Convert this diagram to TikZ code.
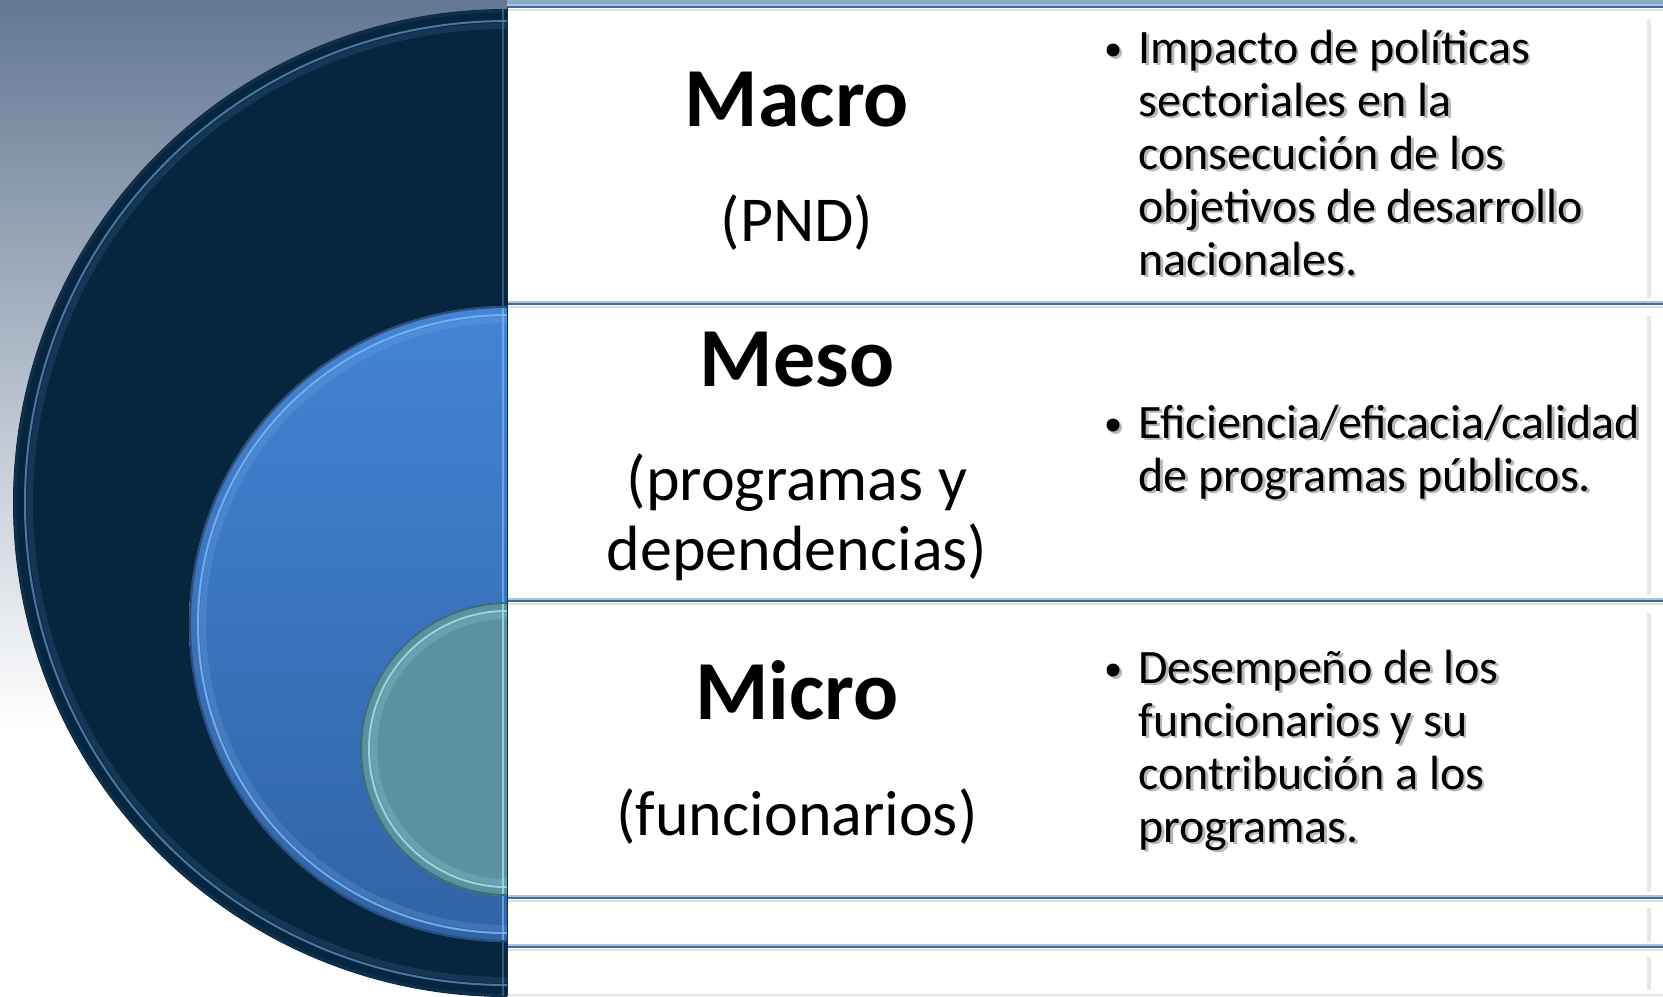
\documentclass[tikz,border=0pt]{standalone}
\usepackage{fontspec}
\setmainfont{Carlito}
\definecolor{bgtop}{HTML}{637893}
\definecolor{topstrip}{HTML}{8AA9C6}
\definecolor{navy}{HTML}{06253F}
\definecolor{navyrim}{HTML}{0F2F4A}
\definecolor{navyhl}{HTML}{5A8DBA}
\definecolor{blueT}{HTML}{4384D5}
\definecolor{blueB}{HTML}{3163A5}
\definecolor{bluerim}{HTML}{2A4E80}
\definecolor{bluehl}{HTML}{7DB8F2}
\definecolor{teal}{HTML}{5A939F}
\definecolor{tealrim}{HTML}{3E6B74}
\definecolor{tealhl}{HTML}{A8DEE6}
\definecolor{sepdark}{HTML}{41699C}
\definecolor{seplight}{HTML}{A9C3E0}
\newcommand\shd[1]{\makebox[0pt][l]{\kern1.3pt\raisebox{-1.3pt}{\textcolor{black!28}{#1}}}#1}
\tikzset{
  lbl/.style={anchor=base, inner sep=0pt, font=\fontsize{42}{48}\selectfont\bfseries},
  sublbl/.style={anchor=base, inner sep=0pt, font=\fontsize{32}{36}\selectfont},
  itm/.style={anchor=base west, inner sep=0pt, font=\fontsize{24}{26}\selectfont},
  bul/.style={circle, fill=black, inner sep=0pt, minimum size=6.5pt},
  bulshadow/.style={circle, fill=black!28, inner sep=0pt, minimum size=6.5pt},
  sepline/.style={line width=0.9pt, sepdark},
  sephl/.style={line width=1pt, seplight},
}
\begin{document}
\begin{tikzpicture}[x=0.5pt,y=-0.5pt]
\useasboundingbox (0,0) rectangle (1663,996);
% background
\shade[top color=bgtop, bottom color=white] (0,0) rectangle (1663,730);
\fill[white] (0,729) rectangle (1663,996);
\fill[topstrip] (507,0) rectangle (1663,7);
% panel
\fill[white] (507,7) rectangle (1663,996);
\foreach \a/\b in {19/298,316/595,613/892} {
  \draw[black!9, line width=2pt] (1649,\a) -- (1649,\b);
}
\draw[black!9, line width=2pt] (1649,908) -- (1649,942);
\draw[black!9, line width=2pt] (1649,957) -- (1649,990);
\foreach \y in {7,304,601,898,947} {
  \draw[sephl] (507,\y-2) -- (1663,\y-2);
  \draw[sepline] (507,\y) -- (1663,\y);
  \draw[black!12, line width=1pt] (507,\y+3) -- (1663,\y+3);
}
\draw[black!10, line width=1pt] (507,995) -- (1663,995);
% half circles
\begin{scope}
  \clip (0,0) rectangle (507,996);
  \fill[navy] (507,503) circle[radius=494];
  \draw[navyrim, line width=1.5pt] (507,503) circle[radius=492];
  \draw[navyhl, line width=1pt, opacity=.8] (507,503) circle[radius=482];
  \draw[navyhl, line width=3pt, opacity=.18] (507,503) circle[radius=477];
  \draw[navyhl, line width=1pt, opacity=.5] (503,9) -- (503,996);
  \shade[top color=blueT, bottom color=blueB] (507,624) circle[radius=318];
  \draw[bluerim, line width=1pt] (507,624) circle[radius=317];
  \draw[bluehl, line width=1pt, opacity=.85] (507,624) circle[radius=309];
  \draw[bluehl, line width=3pt, opacity=.2] (507,624) circle[radius=304];
  \begin{scope}
    \clip (507,624) circle[radius=316];
    \draw[bluehl, line width=1.2pt, opacity=.7] (503,300) -- (503,950);
  \end{scope}
  \fill[teal] (507,749) circle[radius=147];
  \draw[tealrim, line width=1pt] (507,749) circle[radius=146];
  \draw[tealhl, line width=1pt, opacity=.85] (507,749) circle[radius=138];
  \draw[tealhl, line width=3pt, opacity=.2] (507,749) circle[radius=133];
  \begin{scope}
    \clip (507,749) circle[radius=145];
    \draw[tealhl, line width=1.2pt, opacity=.8] (503,600) -- (503,900);
  \end{scope}
\end{scope}
\draw[navyrim, line width=0.5pt] (507,7) -- (507,996);
% labels
\node[lbl] (macro) at (797,126) {Macro};
\node[sublbl] (pnd) at (797,241) {(PND)};
\node[lbl] (meso) at (797,386) {Meso};
\node[sublbl] (prog1) at (797,500) {(programas y};
\node[sublbl] (prog2) at (797,570) {dependencias)};
\node[lbl] (micro) at (797,719) {Micro};
\node[sublbl] (func) at (797,835) {(funcionarios)};
% bullets
\node[bulshadow] (sa) at (1115.5,52.5) {};
\node[bul] (ba) at (1113,50) {};
\node[itm] (a1) at (1138,63) {\shd{Impacto de políticas}};
\node[itm] (a2) at (1138,116) {\shd{sectoriales en la}};
\node[itm] (a3) at (1138,169) {\shd{consecución de los}};
\node[itm] (a4) at (1138,222) {\shd{objetivos de desarrollo}};
\node[itm] (a5) at (1138,275) {\shd{nacionales.}};
\node[bulshadow] (sb) at (1115.5,427.5) {};
\node[bul] (bb) at (1113,425) {};
\node[itm] (b1) at (1138,438) {\shd{Eficiencia/eficacia/calidad}};
\node[itm] (b2) at (1138,491) {\shd{de programas públicos.}};
\node[bulshadow] (sc) at (1115.5,672.5) {};
\node[bul] (bc) at (1113,670) {};
\node[itm] (c1) at (1138,683) {\shd{Desempeño de los}};
\node[itm] (c2) at (1138,736) {\shd{funcionarios y su}};
\node[itm] (c3) at (1138,789) {\shd{contribución a los}};
\node[itm] (c4) at (1138,842) {\shd{programas.}};
\end{tikzpicture}
\end{document}
